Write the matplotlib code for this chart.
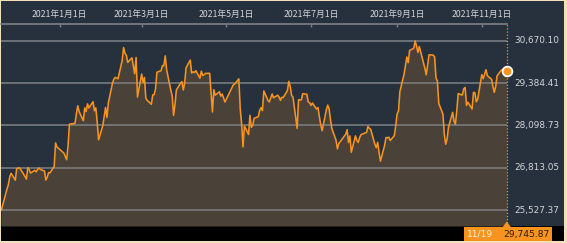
import matplotlib
matplotlib.use('Agg')
import matplotlib.pyplot as plt
import matplotlib.dates as mdates
from matplotlib.patches import Rectangle, Polygon
import pandas as pd

dates = [
 '2020-11-20','2020-11-24','2020-11-25','2020-11-26','2020-11-27','2020-11-30',
 '2020-12-01','2020-12-02','2020-12-03','2020-12-04','2020-12-07','2020-12-08','2020-12-09','2020-12-10','2020-12-11',
 '2020-12-14','2020-12-15','2020-12-16','2020-12-17','2020-12-18','2020-12-21','2020-12-22','2020-12-23','2020-12-24',
 '2020-12-25','2020-12-28','2020-12-29','2020-12-30',
 '2021-01-04','2021-01-05','2021-01-06','2021-01-07','2021-01-08','2021-01-12','2021-01-13','2021-01-14','2021-01-15',
 '2021-01-18','2021-01-19','2021-01-20','2021-01-21','2021-01-22','2021-01-25','2021-01-26','2021-01-27','2021-01-28',
 '2021-01-29','2021-02-01','2021-02-02','2021-02-03','2021-02-04','2021-02-05','2021-02-08','2021-02-09','2021-02-10',
 '2021-02-12','2021-02-15','2021-02-16','2021-02-17','2021-02-18','2021-02-19','2021-02-22','2021-02-24','2021-02-25',
 '2021-02-26','2021-03-01','2021-03-02','2021-03-03','2021-03-04','2021-03-05','2021-03-08','2021-03-09','2021-03-10',
 '2021-03-11','2021-03-12','2021-03-15','2021-03-16','2021-03-17','2021-03-18','2021-03-19','2021-03-22','2021-03-23',
 '2021-03-24','2021-03-25','2021-03-26','2021-03-29','2021-03-30','2021-03-31','2021-04-01','2021-04-02','2021-04-05',
 '2021-04-06','2021-04-07','2021-04-08','2021-04-09','2021-04-12','2021-04-13','2021-04-14','2021-04-15','2021-04-16',
 '2021-04-19','2021-04-20','2021-04-21','2021-04-22','2021-04-23','2021-04-26','2021-04-27','2021-04-28','2021-04-30',
 '2021-05-06','2021-05-07','2021-05-10','2021-05-11','2021-05-12','2021-05-13','2021-05-14','2021-05-17','2021-05-18',
 '2021-05-19','2021-05-20','2021-05-21','2021-05-24','2021-05-25','2021-05-26','2021-05-27','2021-05-28','2021-05-31',
 '2021-06-01','2021-06-02','2021-06-03','2021-06-04','2021-06-07','2021-06-08','2021-06-09','2021-06-10','2021-06-11',
 '2021-06-14','2021-06-15','2021-06-16','2021-06-17','2021-06-18','2021-06-21','2021-06-22','2021-06-23','2021-06-24',
 '2021-06-25','2021-06-28','2021-06-29','2021-06-30','2021-07-01','2021-07-02','2021-07-05','2021-07-06','2021-07-07',
 '2021-07-08','2021-07-09','2021-07-12','2021-07-13','2021-07-14','2021-07-15','2021-07-16','2021-07-19','2021-07-20',
 '2021-07-21','2021-07-26','2021-07-27','2021-07-28','2021-07-29','2021-07-30','2021-08-02','2021-08-03','2021-08-04',
 '2021-08-05','2021-08-06','2021-08-10','2021-08-11','2021-08-12','2021-08-13','2021-08-16','2021-08-17','2021-08-18',
 '2021-08-19','2021-08-20','2021-08-23','2021-08-24','2021-08-25','2021-08-26','2021-08-27','2021-08-30','2021-08-31',
 '2021-09-01','2021-09-02','2021-09-03','2021-09-06','2021-09-07','2021-09-08','2021-09-09','2021-09-10','2021-09-13',
 '2021-09-14','2021-09-15','2021-09-16','2021-09-17','2021-09-21','2021-09-22','2021-09-24','2021-09-27','2021-09-28',
 '2021-09-29','2021-09-30','2021-10-01','2021-10-04','2021-10-05','2021-10-06','2021-10-07','2021-10-08','2021-10-11',
 '2021-10-12','2021-10-13','2021-10-14','2021-10-15','2021-10-18','2021-10-19','2021-10-20','2021-10-21','2021-10-22',
 '2021-10-25','2021-10-26','2021-10-27','2021-10-28','2021-10-29','2021-11-01','2021-11-02','2021-11-04','2021-11-05',
 '2021-11-08','2021-11-09','2021-11-10','2021-11-11','2021-11-12','2021-11-15','2021-11-16','2021-11-17','2021-11-18',
 '2021-11-19']

closes = [
 25527.37,26165.59,26296.86,26537.31,26644.71,26433.62,
 26787.54,26800.98,26809.37,26751.24,26547.44,26467.08,26817.94,26756.24,26652.52,
 26732.44,26687.84,26757.40,26806.67,26763.39,26714.42,26436.39,26524.79,26668.35,
 26656.61,26854.03,27568.15,27444.17,
 27258.38,27158.63,27055.94,27490.13,28139.03,28164.34,28456.59,28698.26,28519.18,
 28242.21,28633.46,28523.26,28756.86,28631.45,28822.29,28546.18,28635.21,28197.42,
 27663.39,28091.05,28362.17,28646.50,28341.95,28779.19,29388.50,29505.93,29562.93,
 29520.07,30084.15,30467.75,30292.19,30236.09,30017.92,30156.03,29671.70,30168.27,
 28966.01,29663.50,29408.17,29559.10,28930.11,28864.32,28743.25,29027.94,29036.56,
 29211.64,29717.83,29766.97,29921.09,29914.33,30216.75,29792.05,29174.15,28995.92,
 28405.52,28729.88,29176.70,29384.52,29432.70,29178.80,29388.87,29854.00,30089.25,
 29696.63,29730.79,29708.98,29768.06,29538.73,29751.61,29620.99,29642.69,29683.37,
 29685.37,29100.38,28508.55,29188.17,29020.63,29126.23,28991.89,29053.97,28812.63,
 29331.37,29357.82,29518.34,28608.59,28147.51,27448.01,28084.47,27824.83,28406.84,
 28044.45,28098.25,28317.83,28364.61,28553.98,28642.19,28549.01,29149.41,28860.08,
 28814.34,28946.14,29058.11,28941.52,29019.24,28963.56,28860.80,28958.56,28948.73,
 29161.80,29441.30,29291.01,29018.33,28964.08,28010.93,28884.13,28874.89,28875.23,
 29066.18,29048.02,28812.61,28791.53,28707.04,28783.28,28598.19,28643.21,28366.95,
 28118.03,27940.42,28569.02,28718.24,28608.49,28279.09,28003.08,27652.74,27388.16,
 27548.00,27833.29,27970.22,27581.66,27782.42,27283.59,27781.02,27641.83,27584.08,
 27728.12,27820.04,27888.15,28070.51,28015.02,27977.15,27523.19,27424.47,27585.91,
 27281.17,27013.25,27494.24,27732.10,27724.80,27742.29,27641.14,27789.29,28089.54,
 28451.02,28543.51,29128.11,29659.89,29916.14,30181.21,30008.19,30381.84,30447.37,
 30670.10,30511.71,30323.34,30500.05,29839.71,29639.40,30248.81,30240.06,30183.96,
 29544.29,29452.66,28771.07,28444.89,27822.12,27528.87,27678.21,28048.94,28498.20,
 28230.61,28140.28,28550.93,29068.63,29025.46,29215.52,29255.55,28708.58,28804.85,
 28600.41,29106.01,29098.24,28820.09,28892.69,29647.08,29520.90,29794.37,29611.57,
 29507.05,29285.46,29106.78,29277.86,29609.97,29776.80,29808.12,29688.33,29598.66,
 29745.87]

tick_dates = ['2021-01-01', '2021-03-01', '2021-05-01', '2021-07-01', '2021-09-01', '2021-11-01']
tick_labels = ['2021年1月1日', '2021年3月1日', '2021年5月1日', '2021年7月1日', '2021年9月1日', '2021年11月1日']
y_ticks = [25527.37, 26813.05, 28098.73, 29384.41, 30670.10]
y_tick_labels = ['25,527.37', '26,813.05', '28,098.73', '29,384.41', '30,670.10']

NAVY = '#27303d'
FILL = '#4a4239'
ORANGE = '#f7931e'
GRID = '#7e8085'
TXT = '#d3d6da'
BEIGE = '#f3dfba'

W, H = 567, 243
fig = plt.figure(figsize=(W / 100, H / 100), dpi=100)
fig.patch.set_facecolor(BEIGE)

def rect(x0, y0, x1, y1):
    return [x0 / W, 1 - y1 / H, (x1 - x0) / W, (y1 - y0) / H]

r = rect(1, 1, 564, 226)
fig.add_artist(Rectangle((r[0], r[1]), r[2], r[3], transform=fig.transFigure,
                         facecolor=NAVY, edgecolor='none', zorder=0))
r = rect(1, 226, 564, 241)
fig.add_artist(Rectangle((r[0], r[1]), r[2], r[3], transform=fig.transFigure,
                         facecolor='black', edgecolor='none', zorder=0))

ax = fig.add_axes(rect(1, 24, 564, 226))
ax.set_facecolor(NAVY)
x = mdates.date2num(pd.to_datetime(dates))
d0, d1 = x[0], x[-1]
ax.set_xlim(d0 - 0.3, d1 + 41.2)
ax.set_ylim(25041, 31186)
ybot = ax.get_ylim()[0]

ax.fill_between(x, closes, ybot, color=FILL, lw=0, zorder=1)
ax.hlines(y_ticks, ax.get_xlim()[0], d1, colors=GRID, lw=1.1, zorder=2)
ax.plot(x, closes, color=ORANGE, lw=1.15, zorder=3, solid_joinstyle='round')
ax.axvline(d1, color=ORANGE, ls=(0, (1, 1.5)), lw=0.9, zorder=2)
ax.plot([d1], [closes[-1]], 'o', ms=7, mfc=ORANGE, mec='white', mew=1.3, zorder=5, clip_on=False)

for v, lab in zip(y_ticks, y_tick_labels):
    ax.text(d1 + 5.4, v, lab, va='center', ha='left', fontsize=6.4,
            color=TXT, family=['DejaVu Sans'])

for s in ['left', 'right', 'bottom']:
    ax.spines[s].set_visible(False)
ax.spines['top'].set_bounds(ax.get_xlim()[0], d1)
ax.spines['top'].set_color(GRID)
ax.spines['top'].set_linewidth(1.2)
ax.set_yticks([])
ax.xaxis.set_ticks_position('top')
ax.set_xticks(mdates.date2num(pd.to_datetime(tick_dates)))
ax.set_xticklabels(tick_labels, family=['Noto Sans CJK JP', 'DejaVu Sans'])
ax.tick_params(axis='x', direction='in', length=2.5, width=1, color=GRID,
               labelsize=6.3, labelcolor=TXT, pad=3.5)

# last value label box in the bottom strip
px = ax.transData.transform((d1, closes[-1]))[0]
fig.add_artist(Rectangle((px - 42.7, 2), 88, 14, transform=None,
                         facecolor=ORANGE, edgecolor='none', zorder=3))
fig.add_artist(Polygon([(px - 4, 16), (px + 4, 16), (px, 21.5)], closed=True,
                       transform=None, facecolor=ORANGE, edgecolor='none', zorder=3))
last = pd.to_datetime(dates[-1])
fig.text(px - 40, 9, f"{last.month}/{last.day}", transform=None, ha='left', va='center',
         fontsize=6.6, color='#fff4dc', family='DejaVu Sans', zorder=4)
fig.text(px + 43, 9, f"{closes[-1]:,.2f}", transform=None, ha='right', va='center',
         fontsize=6.6, color='#2b1b05', family='DejaVu Sans', zorder=4)

fig.savefig('out.png', dpi=100, facecolor=fig.get_facecolor())
